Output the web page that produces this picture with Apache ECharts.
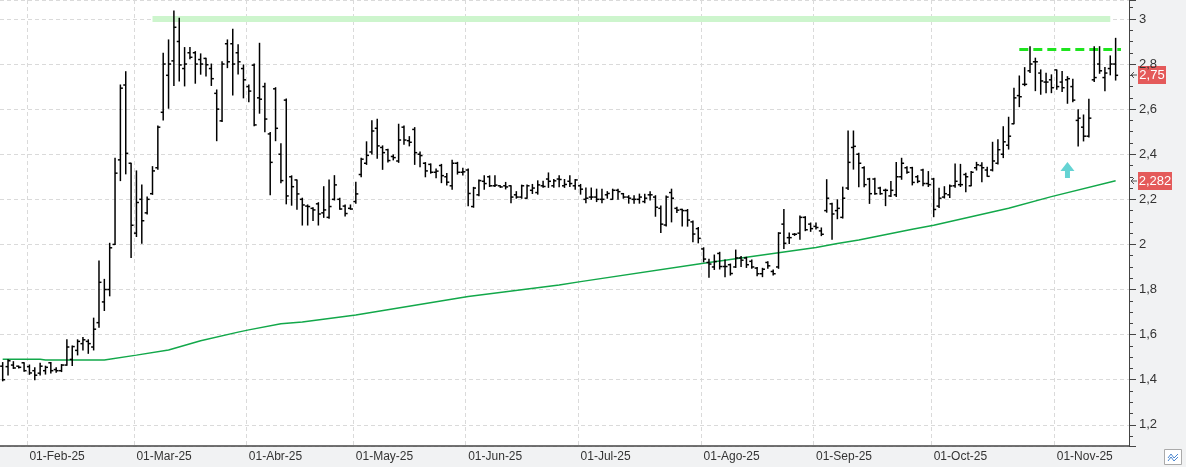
<!DOCTYPE html>
<html>
<head>
<meta charset="utf-8">
<script src="https://cdn.jsdelivr.net/npm/echarts@6/dist/echarts.min.js"></script>
<style>
html, body { margin: 0; padding: 0; background: #f1f2f3; }
#chart { width: 1186px; height: 467px; }
</style>
</head>
<body>
<div id="chart"></div>
<script>
// daily bars, 27-Jan-25 .. 18-Nov-25 (index = bar number)
var opens = [
    1.46, 1.458, 1.465, 1.46, 1.475, 1.458, 1.44, 1.429, 1.44, 1.475,
    1.445, 1.44, 1.465, 1.49, 1.53, 1.56, 1.57, 1.545, 1.653, 1.745,
    1.80, 2.0, 2.375, 2.707, 2.36, 2.05, 2.20, 2.14, 2.225, 2.34,
    2.586, 2.75, 2.814, 2.90, 2.78, 2.85, 2.85, 2.82, 2.825, 2.78,
    2.67, 2.548, 2.89, 2.89, 2.85, 2.78, 2.70, 2.795, 2.65, 2.70,
    2.49, 2.69, 2.40, 2.64, 2.30, 2.286, 2.20, 2.17, 2.16, 2.18,
    2.14, 2.12, 2.20, 2.20, 2.17, 2.16, 2.19, 2.31, 2.36, 2.41,
    2.515, 2.43, 2.42, 2.39, 2.37, 2.52, 2.46, 2.51, 2.40, 2.36,
    2.355, 2.32, 2.35, 2.30, 2.26, 2.36, 2.32, 2.33, 2.168, 2.22,
    2.28, 2.30, 2.26, 2.26, 2.26, 2.26, 2.22, 2.21, 2.205, 2.24,
    2.23, 2.26, 2.29, 2.26, 2.29, 2.26, 2.28, 2.26, 2.26, 2.20,
    2.21, 2.21, 2.20, 2.22, 2.20, 2.24, 2.225, 2.21, 2.20, 2.20,
    2.19, 2.22, 2.21, 2.16, 2.086, 2.23, 2.16, 2.155, 2.15, 2.10,
    2.07, 1.98, 1.92, 1.90, 1.96, 1.902, 1.91, 1.90, 1.94, 1.94,
    1.925, 1.895, 1.87, 1.92, 1.88, 1.90, 2.09, 2.03, 2.045, 2.05,
    2.12, 2.09, 2.08, 2.06, 2.15, 2.18, 2.15, 2.12, 2.25, 2.43,
    2.40, 2.34, 2.29, 2.29, 2.25, 2.24, 2.215, 2.22, 2.30, 2.34,
    2.34, 2.30, 2.33, 2.27, 2.29, 2.17, 2.21, 2.22, 2.26, 2.265,
    2.31, 2.26, 2.34, 2.35, 2.33, 2.33, 2.36, 2.40, 2.44, 2.535,
    2.66, 2.71, 2.77, 2.81, 2.76, 2.72, 2.73, 2.774, 2.72, 2.73,
    2.70, 2.55, 2.52, 2.48, 2.73, 2.80, 2.74, 2.78, 2.80
];
var highs = [
    1.476, 1.488, 1.48, 1.46, 1.475, 1.465, 1.453, 1.473, 1.46, 1.476,
    1.453, 1.467, 1.577, 1.55, 1.577, 1.587, 1.577, 1.673, 1.927, 1.845,
    2.005, 2.382, 2.707, 2.766, 2.36, 2.326, 2.264, 2.21, 2.345, 2.525,
    2.848, 2.907, 3.035, 3.003, 2.873, 2.873, 2.855, 2.845, 2.826, 2.80,
    2.685, 2.81, 2.907, 2.954, 2.885, 2.796, 2.707, 2.80, 2.892, 2.715,
    2.496, 2.695, 2.446, 2.645, 2.304, 2.286, 2.205, 2.175, 2.163, 2.185,
    2.256, 2.286, 2.305, 2.205, 2.175, 2.175, 2.276, 2.382, 2.455, 2.548,
    2.555, 2.437, 2.422, 2.397, 2.533, 2.525, 2.478, 2.518, 2.41, 2.363,
    2.357, 2.335, 2.355, 2.315, 2.373, 2.364, 2.338, 2.335, 2.253, 2.286,
    2.304, 2.304, 2.304, 2.26, 2.275, 2.26, 2.234, 2.263, 2.263, 2.266,
    2.282, 2.28, 2.317, 2.288, 2.305, 2.288, 2.304, 2.288, 2.266, 2.25,
    2.25, 2.245, 2.245, 2.234, 2.245, 2.245, 2.226, 2.216, 2.216, 2.223,
    2.223, 2.234, 2.216, 2.17, 2.215, 2.245, 2.165, 2.156, 2.155, 2.104,
    2.075, 1.985, 1.934, 1.953, 1.965, 1.931, 1.913, 1.975, 1.946, 1.943,
    1.931, 1.898, 1.894, 1.923, 1.887, 2.052, 2.155, 2.051, 2.048, 2.126,
    2.123, 2.095, 2.095, 2.073, 2.287, 2.183, 2.198, 2.254, 2.503, 2.503,
    2.404, 2.345, 2.293, 2.293, 2.254, 2.245, 2.279, 2.363, 2.382, 2.345,
    2.342, 2.305, 2.333, 2.323, 2.293, 2.249, 2.256, 2.264, 2.357, 2.355,
    2.316, 2.323, 2.364, 2.362, 2.342, 2.453, 2.464, 2.522, 2.564, 2.693,
    2.747, 2.784, 2.877, 2.826, 2.774, 2.759, 2.752, 2.774, 2.767, 2.744,
    2.733, 2.597, 2.574, 2.644, 2.877, 2.877, 2.785, 2.836, 2.914
];
var lows = [
    1.395, 1.421, 1.45, 1.452, 1.438, 1.424, 1.40, 1.421, 1.425, 1.43,
    1.433, 1.436, 1.464, 1.463, 1.51, 1.532, 1.517, 1.532, 1.633, 1.707,
    1.772, 2.0, 2.283, 2.313, 1.942, 2.035, 2.005, 2.135, 2.222, 2.333,
    2.552, 2.604, 2.705, 2.725, 2.703, 2.823, 2.715, 2.755, 2.747, 2.705,
    2.46, 2.545, 2.784, 2.663, 2.756, 2.65, 2.633, 2.526, 2.582, 2.50,
    2.22, 2.46, 2.273, 2.18, 2.174, 2.156, 2.086, 2.086, 2.106, 2.086,
    2.12, 2.116, 2.197, 2.156, 2.126, 2.156, 2.183, 2.30, 2.355, 2.401,
    2.382, 2.333, 2.366, 2.375, 2.364, 2.444, 2.437, 2.355, 2.345, 2.30,
    2.316, 2.296, 2.274, 2.264, 2.245, 2.312, 2.308, 2.172, 2.165, 2.216,
    2.245, 2.257, 2.257, 2.253, 2.246, 2.185, 2.205, 2.205, 2.205, 2.226,
    2.223, 2.253, 2.253, 2.253, 2.256, 2.253, 2.257, 2.245, 2.223, 2.185,
    2.20, 2.19, 2.185, 2.205, 2.20, 2.20, 2.205, 2.183, 2.183, 2.183,
    2.185, 2.197, 2.125, 2.053, 2.082, 2.10, 2.142, 2.082, 2.081, 2.012,
    2.007, 1.923, 1.854, 1.889, 1.891, 1.857, 1.864, 1.898, 1.902, 1.898,
    1.894, 1.861, 1.857, 1.894, 1.864, 1.894, 1.982, 2.004, 2.04, 2.023,
    2.061, 2.058, 2.068, 2.039, 2.143, 2.023, 2.114, 2.117, 2.244, 2.334,
    2.256, 2.256, 2.182, 2.222, 2.222, 2.172, 2.212, 2.212, 2.289, 2.316,
    2.264, 2.274, 2.26, 2.257, 2.123, 2.164, 2.206, 2.208, 2.254, 2.257,
    2.234, 2.26, 2.33, 2.278, 2.302, 2.326, 2.357, 2.385, 2.423, 2.535,
    2.611, 2.704, 2.762, 2.682, 2.666, 2.673, 2.673, 2.688, 2.678, 2.626,
    2.633, 2.437, 2.459, 2.476, 2.722, 2.759, 2.682, 2.752, 2.729
];
var closes = [
    1.40, 1.484, 1.452, 1.455, 1.44, 1.43, 1.42, 1.46, 1.455, 1.44,
    1.44, 1.465, 1.545, 1.547, 1.57, 1.577, 1.56, 1.624, 1.832, 1.80,
    1.985, 2.316, 2.693, 2.404, 2.085, 2.186, 2.105, 2.20, 2.326, 2.52,
    2.80, 2.80, 2.963, 2.796, 2.80, 2.83, 2.80, 2.80, 2.797, 2.735,
    2.60, 2.80, 2.81, 2.80, 2.81, 2.73, 2.68, 2.53, 2.644, 2.556,
    2.364, 2.515, 2.283, 2.215, 2.256, 2.224, 2.175, 2.168, 2.153, 2.135,
    2.153, 2.168, 2.264, 2.157, 2.137, 2.157, 2.224, 2.378, 2.395, 2.503,
    2.437, 2.407, 2.372, 2.385, 2.463, 2.463, 2.453, 2.407, 2.394, 2.326,
    2.32, 2.325, 2.305, 2.276, 2.36, 2.32, 2.322, 2.226, 2.25, 2.283,
    2.27, 2.26, 2.263, 2.255, 2.255, 2.21, 2.21, 2.26, 2.26, 2.25,
    2.264, 2.257, 2.28, 2.282, 2.288, 2.266, 2.27, 2.286, 2.245, 2.205,
    2.21, 2.20, 2.20, 2.226, 2.24, 2.234, 2.21, 2.205, 2.20, 2.21,
    2.205, 2.22, 2.165, 2.09, 2.21, 2.205, 2.152, 2.15, 2.108, 2.046,
    2.027, 1.935, 1.913, 1.924, 1.902, 1.902, 1.871, 1.94, 1.93, 1.91,
    1.90, 1.87, 1.89, 1.905, 1.87, 2.05, 2.005, 2.03, 2.045, 2.12,
    2.065, 2.07, 2.075, 2.045, 2.205, 2.135, 2.16, 2.205, 2.364, 2.435,
    2.36, 2.265, 2.225, 2.225, 2.225, 2.24, 2.24, 2.30, 2.36, 2.32,
    2.275, 2.28, 2.27, 2.265, 2.155, 2.205, 2.225, 2.259, 2.28, 2.265,
    2.30, 2.32, 2.353, 2.34, 2.302, 2.37, 2.42, 2.455, 2.48, 2.65,
    2.655, 2.71, 2.80, 2.81, 2.725, 2.72, 2.695, 2.70, 2.695, 2.735,
    2.64, 2.56, 2.48, 2.56, 2.74, 2.77, 2.76, 2.80, 2.75
];

// long moving average, read at the bars where its slope changes
var maPoints = [
    [0, 1.491], [7, 1.491], [8, 1.487], [19, 1.487], [25, 1.509], [31, 1.532],
    [37, 1.573], [44, 1.611], [46, 1.621], [52, 1.648], [56, 1.656], [66, 1.687],
    [87, 1.769], [104, 1.82], [108, 1.835], [131, 1.917], [152, 1.986], [156, 2.004],
    [160, 2.02], [170, 2.067], [174, 2.085], [188, 2.16], [196, 2.212], [208, 2.282]
];

var monthTicks = [
    [5, '01-Feb-25'], [25, '01-Mar-25'], [46, '01-Abr-25'], [66, '01-May-25'],
    [87, '01-Jun-25'], [108, '01-Jul-25'], [131, '01-Ago-25'], [152, '01-Sep-25'],
    [174, '01-Oct-25'], [197, '01-Nov-25']
];

var resistanceLevel = 3.0, resistanceFrom = 28, resistanceTo = 207;
var breakoutLevel = 2.866, breakoutFrom = 190, breakoutTo = 209;
var signalPoints = [[199, 2.33]];

var slotCount = 211;   // bars plus empty room on the right
var categories = [];
for (var i = 0; i < slotCount; i++) categories.push(String(i));

var tickIdx = monthTicks.map(function (t) { return t[0]; });
var tickLabel = {};
monthTicks.forEach(function (t) { tickLabel[t[0]] = t[1]; });
function isMonthStart(index) { return tickIdx.indexOf(index) >= 0; }

function commaNum(v) { return String(v).replace('.', ','); }

var bars = opens.map(function (o, i) { return [i, o, highs[i], lows[i], closes[i]]; });

function renderBar(params, api) {
    var i = api.value(0);
    var top = api.coord([i, api.value(2)]);
    var yL = api.coord([i, api.value(3)])[1];
    var yO = api.coord([i, api.value(1)])[1];
    var yC = api.coord([i, api.value(4)])[1];
    var x = top[0];
    var st = { stroke: '#000', lineWidth: 1.5 };
    return {
        type: 'group',
        children: [
            { type: 'line', shape: { x1: x, y1: top[1] - 0.5, x2: x, y2: yL + 0.5 }, style: st },
            { type: 'line', shape: { x1: x - 2.5, y1: yO, x2: x, y2: yO }, style: st },
            { type: 'line', shape: { x1: x, y1: yC, x2: x + 2.5, y2: yC }, style: st }
        ]
    };
}

var chart = echarts.init(document.getElementById('chart'));

var option = {
    backgroundColor: '#f1f2f3',
    animation: false,
    textStyle: { fontFamily: 'Liberation Sans, Arial, sans-serif' },
    grid: { left: -1, right: 57, top: 0, bottom: 21, show: true, backgroundColor: '#fff', borderWidth: 0 },
    xAxis: {
        type: 'category',
        data: categories,
        boundaryGap: true,
        axisLine: { lineStyle: { color: '#444', width: 1.5 } },
        axisTick: { interval: isMonthStart, length: 7, lineStyle: { color: '#555' } },
        axisLabel: {
            interval: isMonthStart,
            formatter: function (v) { return tickLabel[+v] || ''; },
            align: 'left',
            margin: 5,
            color: '#333',
            fontSize: 12
        },
        splitLine: { show: true, interval: isMonthStart, lineStyle: { color: '#dadada', type: [4, 3] } }
    },
    yAxis: {
        type: 'value',
        position: 'right',
        min: 1.106,
        max: 3.084,
        splitNumber: 10,
        axisLine: { show: true, lineStyle: { color: '#444' } },
        axisTick: { show: true, length: 7, lineStyle: { color: '#444' } },
        minorTick: { show: true, splitNumber: 4, length: 4, lineStyle: { color: '#444' } },
        axisLabel: {
            showMinLabel: false,
            showMaxLabel: false,
            margin: 10,
            color: '#333',
            fontSize: 13,
            formatter: function (v) { return commaNum(+v.toFixed(2)); }
        },
        splitLine: { lineStyle: { color: '#dadada', type: [4, 3] } }
    },
    series: [
        {
            name: 'MA',
            type: 'line',
            data: maPoints,
            symbol: 'none',
            z: 2,
            lineStyle: { color: '#12a84a', width: 1.5 },
            markLine: {
                silent: true,
                z: 1,
                symbol: ['none', 'none'],
                label: { show: false },
                data: [
                    [
                        { coord: [resistanceFrom, resistanceLevel], lineStyle: { color: '#cdf5cd', width: 6, type: 'solid' } },
                        { coord: [resistanceTo, resistanceLevel] }
                    ],
                    [
                        { coord: [breakoutFrom, breakoutLevel], lineStyle: { color: '#1ee41e', width: 3, type: [9, 5] } },
                        { coord: [breakoutTo, breakoutLevel] }
                    ]
                ]
            }
        },
        {
            name: 'OHLC',
            type: 'custom',
            renderItem: renderBar,
            data: bars,
            encode: { x: 0, y: [1, 2, 3, 4] },
            z: 3
        },
        {
            name: 'signal',
            type: 'scatter',
            data: signalPoints,
            symbol: 'path://M7,0 L14,9 L9.5,9 L9.5,16 L4.5,16 L4.5,9 L0,9 Z',
            symbolSize: [14, 16],
            itemStyle: { color: '#3ec8c8' },
            z: 4
        }
    ]
};

chart.setOption(option);

function priceTag(value, width) {
    var y = chart.convertToPixel({ yAxisIndex: 0 }, value);
    return {
        type: 'group',
        x: 1130,
        y: Math.round(y),
        children: [
            { type: 'polyline', shape: { points: [[4, -3], [1, 0], [4, 3]] }, style: { stroke: '#555', lineWidth: 1, fill: null } },
            { type: 'line', shape: { x1: 1, y1: 0, x2: 7, y2: 0 }, style: { stroke: '#555', lineWidth: 1 } },
            { type: 'rect', shape: { x: 8, y: -9, width: width, height: 18 }, style: { fill: '#e45a5a' } },
            {
                type: 'text', x: 8 + width / 2, y: 0,
                style: { text: commaNum(value), fill: '#fff', fontSize: 13, fontFamily: 'Liberation Sans, Arial, sans-serif', align: 'center', verticalAlign: 'middle' }
            }
        ]
    };
}

var lastClose = closes[closes.length - 1];
var lastMa = maPoints[maPoints.length - 1][1];

chart.setOption({
    graphic: [
        priceTag(lastClose, 28),
        priceTag(lastMa, 34),
        {
            type: 'group', x: 1164, y: 449,
            children: [
                { type: 'rect', shape: { x: 0.5, y: 0.5, width: 17, height: 15 }, style: { fill: '#fff', stroke: '#aaa' } },
                { type: 'polyline', shape: { points: [[4, 9], [7, 5], [10, 9], [14, 5]] }, style: { stroke: '#4a86d0', lineWidth: 1, fill: null } },
                { type: 'polyline', shape: { points: [[4, 12], [7, 8], [10, 12], [14, 8]] }, style: { stroke: '#4a86d0', lineWidth: 1, fill: null } }
            ]
        }
    ]
});
</script>
</body>
</html>
